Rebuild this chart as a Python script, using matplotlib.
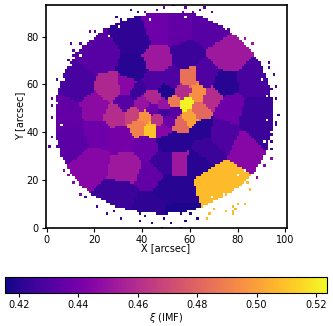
import matplotlib
matplotlib.use('Agg')
import matplotlib.pyplot as plt
import numpy as np

# voronoi bins: centre x, centre y, xi value
# (the big gold patch needs three centres to get its round shape)
bin_x = [58.2, 43.2, 41, 38.6, 59.2, 63, 59.5, 63.1, 53, 55.4,
         56.9, 68.6, 36, 29, 26.5, 20.5, 33.9, 33, 39.3, 44.8,
         44.4, 46, 49, 49.8, 49, 53, 51, 48.5, 46.5, 36.4,
         37, 45, 66.5, 52, 65, 53, 75, 74, 86, 76,
         87.4, 67.8, 58, 54, 36.4, 22.6, 47.7, 13, 8, 11.3,
         21.3, 19, 33, 31, 42, 49, 43.5, 31, 42.3, 50,
         50, 55.5, 62, 54.8, 85, 72, 91, 68, 76, 72, 56.5, 56.9,
         66.5]
bin_y = [51.5, 41.4, 46, 42.7, 62.3, 56, 46.5, 49.4, 52.3, 43.9,
         56.5, 54.5, 47.5, 47, 58, 50.6, 59, 52.3, 51.5, 54.4,
         49.4, 45.2, 51.5, 56.5, 48, 48, 44.4, 41, 70, 66,
         57, 61, 63, 62, 40.5, 36, 72, 59.8, 60.7, 50.6,
         48, 82.8, 71.5, 82.8, 78.7, 71.5, 82.8, 59, 48, 36,
         38.9, 28, 25, 37.7, 34.7, 27.6, 21, 13.8, 9.6, 36,
         16.7, 27.5, 27, 36, 32, 39, 38, 18, 19, 12, 15, 6,
         33.5]
bin_xi = [0.522, 0.51, 0.495, 0.49, 0.485, 0.495, 0.5, 0.482, 0.488, 0.482,
          0.459, 0.46, 0.468, 0.46, 0.458, 0.447, 0.445, 0.432, 0.45, 0.458,
          0.437, 0.462, 0.45, 0.418, 0.426, 0.432, 0.437, 0.445, 0.452, 0.42,
          0.425, 0.43, 0.43, 0.43, 0.42, 0.42, 0.452, 0.42, 0.428, 0.438,
          0.425, 0.432, 0.425, 0.435, 0.422, 0.432, 0.438, 0.428, 0.435, 0.433,
          0.438, 0.445, 0.452, 0.44, 0.437, 0.425, 0.435, 0.425, 0.422, 0.42,
          0.42, 0.452, 0.42, 0.42, 0.445, 0.43, 0.425, 0.508, 0.508, 0.508, 0.42, 0.418,
          0.425]

# outline of the solid part of the field, angle in degrees and radius
edge_angle = [0, 30, 55, 75, 90, 125, 155, 180, 200, 220, 232, 255, 270, 285, 304, 320, 335, 360]
edge_radius = [45, 45.5, 44.5, 44.5, 43, 44, 46, 46.5, 46.5, 45.5, 44, 41, 40.5, 40.5, 41, 43, 44.5, 45]

# single pixels outside the outline, and white pixels inside it
stray_x = [10, 14.2, 15, 11.4, 10.7, 12, 9.3, 3.8, 5.6, 2.4, 1.7, 1.7, 5.2, 18.4, 20.5, 24, 26.8, 28.9, 31, 32.4, 34.4, 35.1, 38, 40.7, 43.5, 46.3, 49, 51.2,
           53.3, 58.2, 65.8, 63.7, 61, 56.8, 59.6, 68.6, 69.3, 71.4, 76.3, 86.3, 83.3, 81.6, 79.4, 77.3, 93.3, 93.3, 90.2, 88.9, 95.1, 96.5, 94.4, 96.5, 93.3, 92.3, 97.2, 94.4, 94.4, 95.8,
           1, 3.8, 2.4, 5.9, 8, 7.2, 9.3, 12.1, 10.7, 13.5, 14.2, 17.7, 16.3, 21.2, 22.6, 25.4, 28.2, 31, 38.6, 38.6, 41.4, 43.5, 45.6, 48.4, 49, 50.5,
           96.5, 94.4, 94.4, 91.6, 93.7, 94.4, 91.2, 88.9, 88.2, 81.2, 86.3, 84.2, 85.4, 83.3, 75.3, 67.2, 67.9, 70, 78.4, 77.7, 79.8, 78.4, 79.1, 56.1, 51.9, 63, 58.2, 60.3, 56.1]
stray_y = [77.3, 77.3, 76, 74.5, 71.7, 73, 69.6, 62.3, 60.5, 53.6, 50.8, 45.9, 44.5, 81.7, 82.2, 82.6, 81.5, 88.1, 87, 85.6, 85.4, 91.2, 90.1, 90.5, 89.1, 91.2, 92.3, 88.4,
           92.9, 92.3, 91.9, 91.2, 90.5, 89.8, 85.9, 89.8, 86.3, 84.2, 82.6, 77.3, 78.7, 77.3, 78, 77.3, 69.2, 67.2, 66.8, 66.4, 64, 59.1, 57.7, 54.3, 54.3, 49.4, 46.6, 52.2, 45.2, 43.5,
           34, 34, 38.2, 29.9, 28.5, 23.6, 21.5, 24.3, 19.4, 18, 14.5, 15.9, 13.1, 8.9, 12.4, 6.1, 6.8, 4, 3.3, 6.1, 5.4, 2, 6.1, 0.3, 4, 6.1,
           43.1, 38.9, 36.1, 36.8, 33.3, 29.2, 26, 29.2, 21, 26, 26, 19.1, 16.3, 10, 7.1, 4, 6.1, 8.2, 6.8, 6.1, 9.6, 8.9, 8.2, 0.3, 2, 4, 3.3, 6.1, 6.1]
hole_x = [79.8, 78.4, 74.2, 69.3, 75, 83, 14, 10, 7, 90, 92, 30, 26, 43, 58, 4, 6, 92, 91]
hole_y = [22.2, 14.5, 14.1, 13.1, 11, 24, 72, 68, 62, 62, 55, 84, 80, 87, 88, 52, 43, 45, 36]

xtick_vals = [0, 20, 40, 60, 80, 100]
ytick_vals = [0, 20, 40, 60, 80]
cbar_ticks = [0.42, 0.44, 0.46, 0.48, 0.50, 0.52]

bx = np.array(bin_x)
by = np.array(bin_y)
bv = np.array(bin_xi)
gx, gy = np.meshgrid(np.arange(101), np.arange(94))
d = (gx[:, :, None] - bx) ** 2 + (gy[:, :, None] - by) ** 2
xi_map = bv[np.argmin(d, axis=2)]
ang = np.degrees(np.arctan2(gy - 46.5, gx - 49.5)) % 360
rad = np.hypot(gx - 49.5, gy - 46.5)
outside = rad > np.interp(ang, edge_angle, edge_radius)
outside[np.round(stray_y).astype(int), np.round(stray_x).astype(int)] = False
outside[np.round(hole_y).astype(int), np.round(hole_x).astype(int)] = True
xi_map[outside] = np.nan

fig = plt.figure(figsize=(3.33, 3.26), dpi=100)
ax = fig.add_axes([45.5 / 333, 1 - 228 / 326, 241 / 333, 223.5 / 326])
im = ax.imshow(xi_map, origin='lower', cmap='plasma', vmin=0.4153, vmax=0.5237,
               extent=[-0.5, 100.5, -0.5, 93.5], aspect='auto', interpolation='nearest')
ax.set_xlim(-0.5, 100.5)
ax.set_ylim(0, 93.4)
ax.set_xticks(xtick_vals)
ax.set_yticks(ytick_vals)
ax.tick_params(labelsize=7, length=3, width=0.8, pad=2)
ax.set_xlabel('X [arcsec]', fontsize=7, labelpad=-1)
ax.set_ylabel('Y [arcsec]', fontsize=7, labelpad=1)
for s in ax.spines.values():
    s.set_linewidth(1.2)

cax = fig.add_axes([5 / 333, 1 - 293 / 326, 322 / 333, 16 / 326])
cb = fig.colorbar(im, cax=cax, orientation='horizontal')
cb.set_ticks(cbar_ticks)
cb.set_ticklabels(['0.42', '0.44', '0.46', '0.48', '0.50', '0.52'])
cb.ax.tick_params(labelsize=7, length=3, width=0.8, pad=2)
cb.set_label(r'$\xi$ (IMF)', fontsize=7, labelpad=1)

fig.savefig('out.png', dpi=100)
